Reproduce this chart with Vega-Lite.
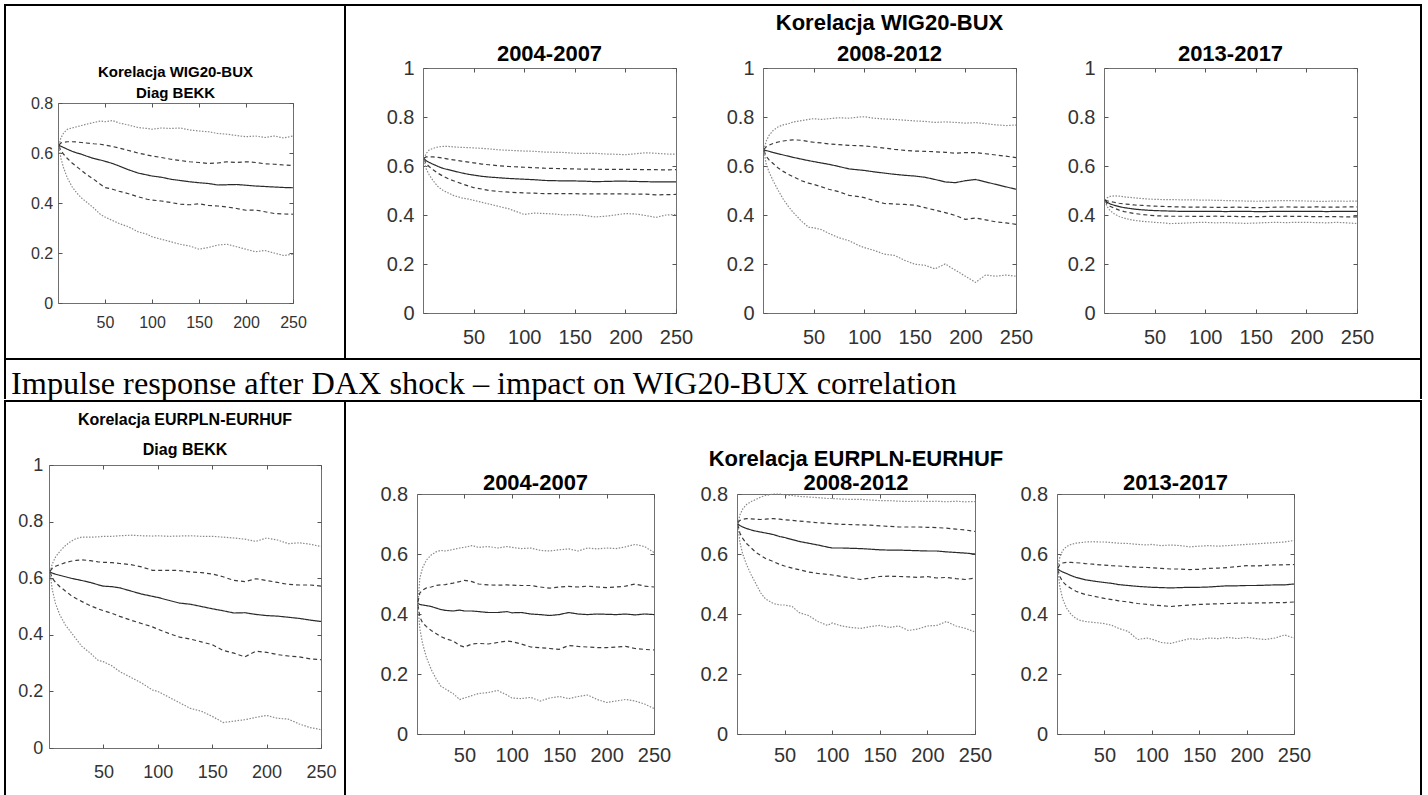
{
"$schema": "https://vega.github.io/schema/vega-lite/v6.json",
"background": "white",
"padding": {"left": 4, "top": 4, "right": 0, "bottom": 0},
"config": {"view": {"stroke": "#707070", "strokeWidth": 1}, "concat": {"spacing": 0}},
"datasets": {
"p1": [
{"x":1,"a":0.63,"b":0.632,"c":0.63,"d":0.628,"e":0.626},
{"x":3,"a":0.66,"b":0.64,"c":0.627,"d":0.61,"e":0.58},
{"x":6,"a":0.68,"b":0.643,"c":0.622,"d":0.595,"e":0.54},
{"x":10,"a":0.695,"b":0.645,"c":0.615,"d":0.578,"e":0.5},
{"x":15,"a":0.7,"b":0.645,"c":0.607,"d":0.56,"e":0.465},
{"x":20,"a":0.705,"b":0.644,"c":0.6,"d":0.545,"e":0.44},
{"x":25,"a":0.71,"b":0.642,"c":0.595,"d":0.53,"e":0.42},
{"x":30,"a":0.715,"b":0.64,"c":0.588,"d":0.515,"e":0.405},
{"x":38,"a":0.722,"b":0.637,"c":0.578,"d":0.495,"e":0.38},
{"x":45,"a":0.728,"b":0.635,"c":0.572,"d":0.475,"e":0.355},
{"x":50,"a":0.725,"b":0.632,"c":0.567,"d":0.462,"e":0.344},
{"x":58,"a":0.73,"b":0.626,"c":0.558,"d":0.455,"e":0.33},
{"x":65,"a":0.72,"b":0.62,"c":0.548,"d":0.447,"e":0.318},
{"x":75,"a":0.712,"b":0.61,"c":0.533,"d":0.437,"e":0.305},
{"x":85,"a":0.702,"b":0.6,"c":0.52,"d":0.425,"e":0.285},
{"x":95,"a":0.698,"b":0.592,"c":0.512,"d":0.415,"e":0.275},
{"x":100,"a":0.695,"b":0.588,"c":0.508,"d":0.412,"e":0.265},
{"x":110,"a":0.7,"b":0.582,"c":0.503,"d":0.408,"e":0.255},
{"x":120,"a":0.698,"b":0.575,"c":0.495,"d":0.402,"e":0.245},
{"x":130,"a":0.7,"b":0.57,"c":0.49,"d":0.395,"e":0.235},
{"x":140,"a":0.692,"b":0.565,"c":0.485,"d":0.393,"e":0.228},
{"x":150,"a":0.688,"b":0.562,"c":0.481,"d":0.397,"e":0.215},
{"x":160,"a":0.685,"b":0.558,"c":0.478,"d":0.39,"e":0.222},
{"x":170,"a":0.678,"b":0.56,"c":0.472,"d":0.388,"e":0.232},
{"x":180,"a":0.675,"b":0.565,"c":0.473,"d":0.384,"e":0.235},
{"x":190,"a":0.67,"b":0.562,"c":0.474,"d":0.378,"e":0.225},
{"x":200,"a":0.665,"b":0.565,"c":0.471,"d":0.371,"e":0.215},
{"x":210,"a":0.668,"b":0.562,"c":0.468,"d":0.372,"e":0.205},
{"x":220,"a":0.662,"b":0.557,"c":0.466,"d":0.365,"e":0.21},
{"x":230,"a":0.668,"b":0.555,"c":0.464,"d":0.358,"e":0.2},
{"x":240,"a":0.66,"b":0.552,"c":0.462,"d":0.356,"e":0.19},
{"x":250,"a":0.668,"b":0.55,"c":0.461,"d":0.355,"e":0.195}
],
"p2": [
{"x":1,"a":0.63,"b":0.632,"c":0.63,"d":0.628,"e":0.626},
{"x":3,"a":0.65,"b":0.637,"c":0.622,"d":0.61,"e":0.59},
{"x":6,"a":0.665,"b":0.638,"c":0.615,"d":0.598,"e":0.565},
{"x":10,"a":0.672,"b":0.637,"c":0.607,"d":0.585,"e":0.54},
{"x":15,"a":0.678,"b":0.635,"c":0.598,"d":0.57,"e":0.515},
{"x":20,"a":0.68,"b":0.632,"c":0.59,"d":0.558,"e":0.5},
{"x":25,"a":0.68,"b":0.628,"c":0.585,"d":0.548,"e":0.49},
{"x":30,"a":0.678,"b":0.625,"c":0.58,"d":0.54,"e":0.48},
{"x":38,"a":0.676,"b":0.62,"c":0.572,"d":0.528,"e":0.47},
{"x":45,"a":0.675,"b":0.616,"c":0.566,"d":0.518,"e":0.465},
{"x":50,"a":0.674,"b":0.613,"c":0.563,"d":0.512,"e":0.46},
{"x":58,"a":0.672,"b":0.608,"c":0.558,"d":0.506,"e":0.452},
{"x":65,"a":0.67,"b":0.605,"c":0.555,"d":0.5,"e":0.445},
{"x":75,"a":0.666,"b":0.601,"c":0.552,"d":0.496,"e":0.435},
{"x":85,"a":0.664,"b":0.598,"c":0.549,"d":0.493,"e":0.425},
{"x":95,"a":0.662,"b":0.596,"c":0.547,"d":0.491,"e":0.41},
{"x":100,"a":0.661,"b":0.595,"c":0.546,"d":0.49,"e":0.402},
{"x":110,"a":0.66,"b":0.593,"c":0.544,"d":0.489,"e":0.408},
{"x":120,"a":0.657,"b":0.591,"c":0.541,"d":0.487,"e":0.406},
{"x":130,"a":0.656,"b":0.59,"c":0.54,"d":0.487,"e":0.404},
{"x":140,"a":0.655,"b":0.589,"c":0.539,"d":0.487,"e":0.4},
{"x":150,"a":0.652,"b":0.588,"c":0.539,"d":0.487,"e":0.402},
{"x":160,"a":0.651,"b":0.587,"c":0.538,"d":0.486,"e":0.398},
{"x":170,"a":0.652,"b":0.587,"c":0.536,"d":0.486,"e":0.392},
{"x":180,"a":0.649,"b":0.586,"c":0.537,"d":0.486,"e":0.395},
{"x":190,"a":0.648,"b":0.586,"c":0.538,"d":0.486,"e":0.4},
{"x":200,"a":0.646,"b":0.586,"c":0.538,"d":0.486,"e":0.406},
{"x":210,"a":0.65,"b":0.586,"c":0.537,"d":0.485,"e":0.404},
{"x":220,"a":0.654,"b":0.585,"c":0.536,"d":0.485,"e":0.398},
{"x":230,"a":0.652,"b":0.585,"c":0.535,"d":0.482,"e":0.39},
{"x":240,"a":0.649,"b":0.584,"c":0.535,"d":0.483,"e":0.4},
{"x":250,"a":0.648,"b":0.585,"c":0.535,"d":0.484,"e":0.402}
],
"p3": [
{"x":1,"a":0.665,"b":0.668,"c":0.665,"d":0.662,"e":0.66},
{"x":3,"a":0.7,"b":0.678,"c":0.663,"d":0.64,"e":0.61},
{"x":6,"a":0.725,"b":0.685,"c":0.66,"d":0.625,"e":0.575},
{"x":10,"a":0.745,"b":0.692,"c":0.655,"d":0.61,"e":0.54},
{"x":15,"a":0.76,"b":0.698,"c":0.65,"d":0.592,"e":0.5},
{"x":20,"a":0.768,"b":0.702,"c":0.645,"d":0.578,"e":0.465},
{"x":25,"a":0.772,"b":0.705,"c":0.64,"d":0.566,"e":0.435},
{"x":30,"a":0.78,"b":0.707,"c":0.635,"d":0.556,"e":0.41},
{"x":38,"a":0.785,"b":0.705,"c":0.628,"d":0.54,"e":0.375},
{"x":45,"a":0.79,"b":0.7,"c":0.622,"d":0.53,"e":0.35},
{"x":50,"a":0.793,"b":0.697,"c":0.618,"d":0.525,"e":0.348},
{"x":58,"a":0.79,"b":0.694,"c":0.612,"d":0.515,"e":0.34},
{"x":65,"a":0.793,"b":0.69,"c":0.607,"d":0.505,"e":0.325},
{"x":75,"a":0.797,"b":0.687,"c":0.598,"d":0.495,"e":0.307},
{"x":85,"a":0.795,"b":0.684,"c":0.588,"d":0.48,"e":0.295},
{"x":95,"a":0.8,"b":0.683,"c":0.584,"d":0.475,"e":0.275},
{"x":100,"a":0.801,"b":0.682,"c":0.582,"d":0.471,"e":0.267},
{"x":110,"a":0.795,"b":0.678,"c":0.576,"d":0.458,"e":0.255},
{"x":120,"a":0.792,"b":0.673,"c":0.571,"d":0.447,"e":0.24},
{"x":130,"a":0.79,"b":0.668,"c":0.566,"d":0.445,"e":0.235},
{"x":140,"a":0.787,"b":0.664,"c":0.562,"d":0.443,"e":0.215},
{"x":150,"a":0.784,"b":0.661,"c":0.559,"d":0.44,"e":0.199},
{"x":160,"a":0.782,"b":0.66,"c":0.554,"d":0.43,"e":0.195},
{"x":170,"a":0.778,"b":0.658,"c":0.545,"d":0.42,"e":0.18},
{"x":180,"a":0.78,"b":0.656,"c":0.535,"d":0.41,"e":0.2},
{"x":190,"a":0.778,"b":0.652,"c":0.532,"d":0.398,"e":0.175},
{"x":200,"a":0.775,"b":0.655,"c":0.54,"d":0.382,"e":0.15},
{"x":210,"a":0.777,"b":0.655,"c":0.545,"d":0.388,"e":0.125},
{"x":220,"a":0.773,"b":0.65,"c":0.535,"d":0.38,"e":0.155},
{"x":230,"a":0.768,"b":0.645,"c":0.525,"d":0.372,"e":0.15},
{"x":240,"a":0.765,"b":0.64,"c":0.515,"d":0.368,"e":0.155},
{"x":250,"a":0.767,"b":0.634,"c":0.505,"d":0.362,"e":0.15}
],
"p4": [
{"x":1,"a":0.46,"b":0.46,"c":0.46,"d":0.458,"e":0.456},
{"x":3,"a":0.47,"b":0.458,"c":0.452,"d":0.446,"e":0.435},
{"x":6,"a":0.476,"b":0.455,"c":0.445,"d":0.436,"e":0.418},
{"x":10,"a":0.478,"b":0.452,"c":0.44,"d":0.428,"e":0.405},
{"x":15,"a":0.477,"b":0.448,"c":0.434,"d":0.42,"e":0.394},
{"x":20,"a":0.474,"b":0.445,"c":0.43,"d":0.414,"e":0.387},
{"x":25,"a":0.472,"b":0.443,"c":0.427,"d":0.41,"e":0.382},
{"x":30,"a":0.47,"b":0.441,"c":0.424,"d":0.406,"e":0.378},
{"x":38,"a":0.467,"b":0.439,"c":0.421,"d":0.402,"e":0.374},
{"x":45,"a":0.465,"b":0.437,"c":0.419,"d":0.399,"e":0.372},
{"x":50,"a":0.464,"b":0.436,"c":0.418,"d":0.397,"e":0.37},
{"x":58,"a":0.463,"b":0.435,"c":0.417,"d":0.396,"e":0.368},
{"x":65,"a":0.463,"b":0.434,"c":0.416,"d":0.395,"e":0.365},
{"x":75,"a":0.462,"b":0.433,"c":0.415,"d":0.395,"e":0.366},
{"x":85,"a":0.462,"b":0.432,"c":0.415,"d":0.395,"e":0.368},
{"x":95,"a":0.461,"b":0.432,"c":0.415,"d":0.394,"e":0.37},
{"x":100,"a":0.461,"b":0.432,"c":0.415,"d":0.394,"e":0.37},
{"x":110,"a":0.46,"b":0.431,"c":0.415,"d":0.395,"e":0.368},
{"x":120,"a":0.459,"b":0.431,"c":0.414,"d":0.394,"e":0.369},
{"x":130,"a":0.458,"b":0.432,"c":0.415,"d":0.394,"e":0.367},
{"x":140,"a":0.457,"b":0.431,"c":0.415,"d":0.393,"e":0.366},
{"x":150,"a":0.456,"b":0.43,"c":0.414,"d":0.393,"e":0.367},
{"x":160,"a":0.457,"b":0.431,"c":0.414,"d":0.394,"e":0.369},
{"x":170,"a":0.458,"b":0.432,"c":0.415,"d":0.394,"e":0.37},
{"x":180,"a":0.459,"b":0.433,"c":0.415,"d":0.395,"e":0.369},
{"x":190,"a":0.458,"b":0.432,"c":0.415,"d":0.394,"e":0.37},
{"x":200,"a":0.457,"b":0.432,"c":0.415,"d":0.394,"e":0.37},
{"x":210,"a":0.456,"b":0.433,"c":0.415,"d":0.393,"e":0.369},
{"x":220,"a":0.456,"b":0.432,"c":0.414,"d":0.393,"e":0.368},
{"x":230,"a":0.457,"b":0.432,"c":0.415,"d":0.393,"e":0.37},
{"x":240,"a":0.456,"b":0.433,"c":0.415,"d":0.392,"e":0.368},
{"x":250,"a":0.457,"b":0.433,"c":0.415,"d":0.392,"e":0.365}
],
"p5": [
{"x":1,"a":0.622,"b":0.625,"c":0.622,"d":0.62,"e":0.618},
{"x":3,"a":0.65,"b":0.635,"c":0.618,"d":0.6,"e":0.56},
{"x":6,"a":0.675,"b":0.642,"c":0.614,"d":0.585,"e":0.51},
{"x":10,"a":0.695,"b":0.648,"c":0.61,"d":0.57,"e":0.47},
{"x":15,"a":0.715,"b":0.655,"c":0.605,"d":0.555,"e":0.435},
{"x":20,"a":0.73,"b":0.66,"c":0.6,"d":0.54,"e":0.41},
{"x":25,"a":0.74,"b":0.663,"c":0.596,"d":0.528,"e":0.385},
{"x":30,"a":0.745,"b":0.665,"c":0.592,"d":0.518,"e":0.36},
{"x":38,"a":0.745,"b":0.662,"c":0.585,"d":0.503,"e":0.335},
{"x":45,"a":0.746,"b":0.658,"c":0.577,"d":0.492,"e":0.31},
{"x":50,"a":0.748,"b":0.656,"c":0.572,"d":0.485,"e":0.305},
{"x":58,"a":0.748,"b":0.655,"c":0.57,"d":0.476,"e":0.29},
{"x":65,"a":0.75,"b":0.652,"c":0.566,"d":0.465,"e":0.27},
{"x":75,"a":0.752,"b":0.648,"c":0.555,"d":0.452,"e":0.25},
{"x":85,"a":0.75,"b":0.64,"c":0.544,"d":0.44,"e":0.23},
{"x":95,"a":0.749,"b":0.628,"c":0.536,"d":0.428,"e":0.205},
{"x":100,"a":0.75,"b":0.628,"c":0.532,"d":0.42,"e":0.2},
{"x":110,"a":0.748,"b":0.628,"c":0.522,"d":0.405,"e":0.18},
{"x":120,"a":0.749,"b":0.627,"c":0.512,"d":0.392,"e":0.16},
{"x":130,"a":0.75,"b":0.622,"c":0.508,"d":0.385,"e":0.14},
{"x":140,"a":0.748,"b":0.62,"c":0.5,"d":0.375,"e":0.13},
{"x":150,"a":0.748,"b":0.615,"c":0.492,"d":0.365,"e":0.112},
{"x":160,"a":0.745,"b":0.605,"c":0.485,"d":0.345,"e":0.09},
{"x":170,"a":0.742,"b":0.592,"c":0.477,"d":0.335,"e":0.095},
{"x":180,"a":0.738,"b":0.588,"c":0.478,"d":0.322,"e":0.1},
{"x":190,"a":0.73,"b":0.598,"c":0.472,"d":0.342,"e":0.108},
{"x":200,"a":0.742,"b":0.592,"c":0.468,"d":0.338,"e":0.115},
{"x":210,"a":0.735,"b":0.585,"c":0.466,"d":0.33,"e":0.105},
{"x":220,"a":0.722,"b":0.578,"c":0.462,"d":0.325,"e":0.102},
{"x":230,"a":0.725,"b":0.576,"c":0.458,"d":0.322,"e":0.085},
{"x":240,"a":0.72,"b":0.576,"c":0.452,"d":0.315,"e":0.072},
{"x":250,"a":0.712,"b":0.572,"c":0.447,"d":0.312,"e":0.065}
],
"p6": [
{"x":1,"a":0.435,"b":0.44,"c":0.435,"d":0.43,"e":0.428},
{"x":3,"a":0.52,"b":0.47,"c":0.432,"d":0.39,"e":0.35},
{"x":6,"a":0.555,"b":0.48,"c":0.43,"d":0.37,"e":0.3},
{"x":10,"a":0.58,"b":0.487,"c":0.428,"d":0.358,"e":0.255},
{"x":15,"a":0.597,"b":0.49,"c":0.425,"d":0.345,"e":0.215},
{"x":20,"a":0.607,"b":0.495,"c":0.42,"d":0.335,"e":0.185},
{"x":25,"a":0.612,"b":0.497,"c":0.415,"d":0.325,"e":0.16},
{"x":30,"a":0.61,"b":0.498,"c":0.412,"d":0.318,"e":0.15},
{"x":38,"a":0.615,"b":0.503,"c":0.41,"d":0.31,"e":0.135},
{"x":45,"a":0.62,"b":0.508,"c":0.413,"d":0.295,"e":0.115},
{"x":50,"a":0.622,"b":0.512,"c":0.41,"d":0.29,"e":0.12},
{"x":58,"a":0.628,"b":0.508,"c":0.41,"d":0.3,"e":0.128},
{"x":65,"a":0.622,"b":0.5,"c":0.408,"d":0.302,"e":0.135},
{"x":75,"a":0.625,"b":0.497,"c":0.405,"d":0.3,"e":0.138},
{"x":85,"a":0.62,"b":0.496,"c":0.405,"d":0.305,"e":0.145},
{"x":95,"a":0.625,"b":0.497,"c":0.408,"d":0.31,"e":0.13},
{"x":100,"a":0.622,"b":0.496,"c":0.404,"d":0.308,"e":0.12},
{"x":110,"a":0.618,"b":0.495,"c":0.405,"d":0.3,"e":0.118},
{"x":120,"a":0.62,"b":0.495,"c":0.4,"d":0.29,"e":0.122},
{"x":130,"a":0.612,"b":0.49,"c":0.398,"d":0.288,"e":0.11},
{"x":140,"a":0.61,"b":0.486,"c":0.395,"d":0.285,"e":0.12},
{"x":150,"a":0.614,"b":0.49,"c":0.398,"d":0.282,"e":0.125},
{"x":160,"a":0.617,"b":0.492,"c":0.405,"d":0.295,"e":0.118},
{"x":170,"a":0.61,"b":0.49,"c":0.4,"d":0.292,"e":0.125},
{"x":180,"a":0.62,"b":0.493,"c":0.398,"d":0.29,"e":0.13},
{"x":190,"a":0.617,"b":0.49,"c":0.4,"d":0.288,"e":0.115},
{"x":200,"a":0.62,"b":0.488,"c":0.399,"d":0.288,"e":0.105},
{"x":210,"a":0.618,"b":0.49,"c":0.398,"d":0.29,"e":0.11},
{"x":220,"a":0.624,"b":0.493,"c":0.4,"d":0.292,"e":0.115},
{"x":230,"a":0.632,"b":0.5,"c":0.397,"d":0.285,"e":0.11},
{"x":240,"a":0.625,"b":0.493,"c":0.4,"d":0.282,"e":0.1},
{"x":250,"a":0.605,"b":0.49,"c":0.398,"d":0.28,"e":0.085}
],
"p7": [
{"x":1,"a":0.7,"b":0.705,"c":0.7,"d":0.698,"e":0.696},
{"x":3,"a":0.73,"b":0.712,"c":0.695,"d":0.67,"e":0.64},
{"x":6,"a":0.75,"b":0.716,"c":0.69,"d":0.652,"e":0.6},
{"x":10,"a":0.765,"b":0.718,"c":0.685,"d":0.635,"e":0.565},
{"x":15,"a":0.775,"b":0.717,"c":0.68,"d":0.62,"e":0.53},
{"x":20,"a":0.782,"b":0.716,"c":0.676,"d":0.605,"e":0.5},
{"x":25,"a":0.79,"b":0.715,"c":0.673,"d":0.595,"e":0.47},
{"x":30,"a":0.795,"b":0.716,"c":0.67,"d":0.585,"e":0.45},
{"x":38,"a":0.8,"b":0.718,"c":0.665,"d":0.575,"e":0.435},
{"x":45,"a":0.8,"b":0.716,"c":0.658,"d":0.565,"e":0.43},
{"x":50,"a":0.797,"b":0.714,"c":0.655,"d":0.56,"e":0.43},
{"x":58,"a":0.795,"b":0.712,"c":0.648,"d":0.553,"e":0.425},
{"x":65,"a":0.792,"b":0.71,"c":0.642,"d":0.548,"e":0.405},
{"x":75,"a":0.79,"b":0.707,"c":0.636,"d":0.54,"e":0.395},
{"x":85,"a":0.788,"b":0.704,"c":0.63,"d":0.535,"e":0.375},
{"x":95,"a":0.785,"b":0.702,"c":0.623,"d":0.532,"e":0.362},
{"x":100,"a":0.785,"b":0.701,"c":0.62,"d":0.53,"e":0.37},
{"x":110,"a":0.783,"b":0.699,"c":0.62,"d":0.525,"e":0.36},
{"x":120,"a":0.782,"b":0.698,"c":0.619,"d":0.52,"e":0.355},
{"x":130,"a":0.782,"b":0.697,"c":0.618,"d":0.515,"e":0.352},
{"x":140,"a":0.78,"b":0.696,"c":0.616,"d":0.52,"e":0.358},
{"x":150,"a":0.778,"b":0.694,"c":0.614,"d":0.525,"e":0.362},
{"x":160,"a":0.778,"b":0.692,"c":0.613,"d":0.526,"e":0.355},
{"x":170,"a":0.776,"b":0.69,"c":0.613,"d":0.525,"e":0.36},
{"x":180,"a":0.775,"b":0.69,"c":0.612,"d":0.524,"e":0.345},
{"x":190,"a":0.776,"b":0.69,"c":0.611,"d":0.522,"e":0.35},
{"x":200,"a":0.775,"b":0.689,"c":0.61,"d":0.525,"e":0.36},
{"x":210,"a":0.776,"b":0.688,"c":0.61,"d":0.52,"e":0.362},
{"x":220,"a":0.774,"b":0.686,"c":0.607,"d":0.522,"e":0.375},
{"x":230,"a":0.776,"b":0.683,"c":0.605,"d":0.518,"e":0.36},
{"x":240,"a":0.774,"b":0.68,"c":0.603,"d":0.515,"e":0.352},
{"x":250,"a":0.775,"b":0.675,"c":0.6,"d":0.52,"e":0.34}
],
"p8": [
{"x":1,"a":0.555,"b":0.553,"c":0.55,"d":0.548,"e":0.546},
{"x":3,"a":0.59,"b":0.565,"c":0.545,"d":0.525,"e":0.49},
{"x":6,"a":0.612,"b":0.57,"c":0.54,"d":0.508,"e":0.45},
{"x":10,"a":0.625,"b":0.572,"c":0.535,"d":0.495,"e":0.42},
{"x":15,"a":0.632,"b":0.572,"c":0.528,"d":0.485,"e":0.398},
{"x":20,"a":0.636,"b":0.571,"c":0.522,"d":0.476,"e":0.385},
{"x":25,"a":0.638,"b":0.57,"c":0.518,"d":0.47,"e":0.378},
{"x":30,"a":0.64,"b":0.568,"c":0.514,"d":0.465,"e":0.375},
{"x":38,"a":0.641,"b":0.566,"c":0.51,"d":0.46,"e":0.372},
{"x":45,"a":0.64,"b":0.564,"c":0.507,"d":0.455,"e":0.37},
{"x":50,"a":0.64,"b":0.563,"c":0.505,"d":0.452,"e":0.368},
{"x":58,"a":0.638,"b":0.561,"c":0.502,"d":0.448,"e":0.362},
{"x":65,"a":0.636,"b":0.56,"c":0.498,"d":0.444,"e":0.352},
{"x":75,"a":0.635,"b":0.558,"c":0.495,"d":0.44,"e":0.342},
{"x":85,"a":0.632,"b":0.556,"c":0.492,"d":0.435,"e":0.315},
{"x":95,"a":0.63,"b":0.555,"c":0.49,"d":0.432,"e":0.32},
{"x":100,"a":0.632,"b":0.554,"c":0.489,"d":0.43,"e":0.316},
{"x":110,"a":0.628,"b":0.552,"c":0.488,"d":0.428,"e":0.305},
{"x":120,"a":0.63,"b":0.55,"c":0.487,"d":0.425,"e":0.302},
{"x":130,"a":0.628,"b":0.55,"c":0.488,"d":0.428,"e":0.31},
{"x":140,"a":0.624,"b":0.548,"c":0.489,"d":0.43,"e":0.318},
{"x":150,"a":0.626,"b":0.549,"c":0.489,"d":0.432,"e":0.315},
{"x":160,"a":0.628,"b":0.552,"c":0.49,"d":0.433,"e":0.32},
{"x":170,"a":0.626,"b":0.553,"c":0.492,"d":0.434,"e":0.318},
{"x":180,"a":0.628,"b":0.555,"c":0.494,"d":0.435,"e":0.322},
{"x":190,"a":0.63,"b":0.558,"c":0.494,"d":0.436,"e":0.318},
{"x":200,"a":0.632,"b":0.561,"c":0.495,"d":0.436,"e":0.322},
{"x":210,"a":0.634,"b":0.56,"c":0.495,"d":0.437,"e":0.318},
{"x":220,"a":0.636,"b":0.562,"c":0.496,"d":0.437,"e":0.315},
{"x":230,"a":0.638,"b":0.564,"c":0.497,"d":0.438,"e":0.32},
{"x":240,"a":0.64,"b":0.564,"c":0.497,"d":0.438,"e":0.33},
{"x":250,"a":0.645,"b":0.565,"c":0.5,"d":0.44,"e":0.32}
]
},
"spacing": 0,
"vconcat": [
{"width": 1418, "height": 2, "data": {"values": []}, "mark": "rule", "encoding": {}, "view": {"stroke": null, "fill": "#000000"}},
{"spacing": 0, "hconcat": [
 {"width": 2, "height": 352, "data": {"values": []}, "mark": "rule", "encoding": {}, "view": {"stroke": null, "fill": "#000000"}},
 {"spacing": 0, "vconcat": [
  {"width": 338, "height": 58, "data": {"values": []}, "mark": "rule", "encoding": {}, "view": {"stroke": null}},
  {"spacing": 0, "hconcat": [
   {"width": 16, "height": 1, "data": {"values": []}, "mark": "rule", "encoding": {}, "view": {"stroke": null}},
   {"width": 235, "height": 200, "data": {"name": "p1"},
    "transform": [{"fold": ["a","b","c","d","e"], "as": ["s","y"]}],
    "title": {"text": ["Korelacja WIG20-BUX", "Diag BEKK"], "font": "Liberation Sans Narrow, Arial Narrow, Liberation Sans, sans-serif", "fontSize": 15, "fontWeight": "bold", "color": "#000000", "lineHeight": 21, "offset": -6, "frame": "group", "anchor": "middle"},
    "layer": [
     {"mark": {"type": "line", "strokeWidth": 1.2},
      "encoding": {
       "x": {"field": "x", "type": "quantitative", "scale": {"domain": [0,250], "nice": false, "zero": false}, "axis": {"orient": "bottom", "values": [50,100,150,200,250], "title": null, "domain": false, "grid": false, "tickSize": -4, "tickColor": "#555555", "labelFont": "Liberation Sans Narrow, Arial Narrow, Liberation Sans, sans-serif", "labelFontSize": 16, "labelColor": "#333333", "labelPadding": 15.5, "labelFlush": false, "labelOverlap": false, "minExtent": 32, "maxExtent": 32}},
       "y": {"field": "y", "type": "quantitative", "scale": {"domain": [0,0.8], "nice": false}, "axis": {"orient": "left", "values": [0,0.2,0.4,0.6,0.8], "format": "~g", "title": null, "domain": false, "grid": false, "tickSize": -4, "tickColor": "#555555", "labelFont": "Liberation Sans Narrow, Arial Narrow, Liberation Sans, sans-serif", "labelFontSize": 16, "labelColor": "#333333", "labelPadding": 9.3, "labelOverlap": false, "minExtent": 35, "maxExtent": 35}},
       "color": {"field": "s", "type": "nominal", "scale": {"domain": ["a","b","c","d","e"], "range": ["#8a8a8a","#3c3c3c","#2a2a2a","#3c3c3c","#8a8a8a"]}, "legend": null},
       "strokeDash": {"field": "s", "type": "nominal", "scale": {"domain": ["a","b","c","d","e"], "range": [[1.5,1.5],[4,3],[1,0],[4,3],[1.5,1.5]]}, "legend": null}
      }},
     {"mark": {"type": "line", "strokeOpacity": 0},
      "encoding": {
       "x": {"field": "x", "type": "quantitative", "axis": {"orient": "top", "values": [50,100,150,200,250], "labels": false, "title": null, "domain": false, "grid": false, "tickSize": -4, "tickColor": "#555555", "minExtent": 0, "maxExtent": 0}},
       "y": {"field": "y", "type": "quantitative", "axis": {"orient": "right", "values": [0,0.2,0.4,0.6,0.8], "labels": false, "title": null, "domain": false, "grid": false, "tickSize": -4, "tickColor": "#555555", "minExtent": 0, "maxExtent": 0}}
      }}
    ],
    "resolve": {"axis": {"x": "independent", "y": "independent"}}
   }
  ]}
 ]},
 {"width": 2, "height": 352, "data": {"values": []}, "mark": "rule", "encoding": {}, "view": {"stroke": null, "fill": "#000000"}},
 {"spacing": 0, "vconcat": [
  {"width": 1074, "height": 5, "data": {"values": []}, "mark": "rule", "encoding": {}, "view": {"stroke": null}},
  {"spacing": 0, "hconcat": [
   {"width": 31, "height": 1, "data": {"values": []}, "mark": "rule", "encoding": {}, "view": {"stroke": null}},
   {"width": 253, "height": 245, "data": {"name": "p2"},
    "transform": [{"fold": ["a","b","c","d","e"], "as": ["s","y"]}],
    "title": {"text": ["", "2004-2007"], "font": "Liberation Sans, Arial, Helvetica, sans-serif", "fontSize": 22, "fontWeight": "bold", "color": "#000000", "lineHeight": 31, "offset": -8, "frame": "group", "anchor": "middle"},
    "layer": [
     {"mark": {"type": "line", "strokeWidth": 1.2},
      "encoding": {
       "x": {"field": "x", "type": "quantitative", "scale": {"domain": [0,250], "nice": false, "zero": false}, "axis": {"orient": "bottom", "values": [50,100,150,200,250], "title": null, "domain": false, "grid": false, "tickSize": -4, "tickColor": "#555555", "labelFont": "Liberation Sans, Arial, Helvetica, sans-serif", "labelFontSize": 20, "labelColor": "#333333", "labelPadding": 18.5, "labelFlush": false, "labelOverlap": false, "minExtent": 40, "maxExtent": 40}},
       "y": {"field": "y", "type": "quantitative", "scale": {"domain": [0,1], "nice": false}, "axis": {"orient": "left", "values": [0,0.2,0.4,0.6,0.8,1], "format": "~g", "title": null, "domain": false, "grid": false, "tickSize": -4, "tickColor": "#555555", "labelFont": "Liberation Sans, Arial, Helvetica, sans-serif", "labelFontSize": 20, "labelColor": "#333333", "labelPadding": 13, "labelOverlap": false, "minExtent": 45, "maxExtent": 45}},
       "color": {"field": "s", "type": "nominal", "scale": {"domain": ["a","b","c","d","e"], "range": ["#8a8a8a","#3c3c3c","#2a2a2a","#3c3c3c","#8a8a8a"]}, "legend": null},
       "strokeDash": {"field": "s", "type": "nominal", "scale": {"domain": ["a","b","c","d","e"], "range": [[1.5,1.5],[4,3],[1,0],[4,3],[1.5,1.5]]}, "legend": null}
      }},
     {"mark": {"type": "line", "strokeOpacity": 0},
      "encoding": {
       "x": {"field": "x", "type": "quantitative", "axis": {"orient": "top", "values": [50,100,150,200,250], "labels": false, "title": null, "domain": false, "grid": false, "tickSize": -4, "tickColor": "#555555", "minExtent": 0, "maxExtent": 0}},
       "y": {"field": "y", "type": "quantitative", "axis": {"orient": "right", "values": [0,0.2,0.4,0.6,0.8,1], "labels": false, "title": null, "domain": false, "grid": false, "tickSize": -4, "tickColor": "#555555", "minExtent": 0, "maxExtent": 0}}
      }}
    ],
    "resolve": {"axis": {"x": "independent", "y": "independent"}}
   },
   {"width": 22.32, "height": 1, "data": {"values": []}, "mark": "rule", "encoding": {}, "view": {"stroke": null}},
   {"width": 253, "height": 245, "data": {"name": "p3"},
    "transform": [{"fold": ["a","b","c","d","e"], "as": ["s","y"]}],
    "title": {"text": ["Korelacja WIG20-BUX", "2008-2012"], "font": "Liberation Sans, Arial, Helvetica, sans-serif", "fontSize": 22, "fontWeight": "bold", "color": "#000000", "lineHeight": 31, "offset": -8, "frame": "group", "anchor": "middle"},
    "layer": [
     {"mark": {"type": "line", "strokeWidth": 1.2},
      "encoding": {
       "x": {"field": "x", "type": "quantitative", "scale": {"domain": [0,250], "nice": false, "zero": false}, "axis": {"orient": "bottom", "values": [50,100,150,200,250], "title": null, "domain": false, "grid": false, "tickSize": -4, "tickColor": "#555555", "labelFont": "Liberation Sans, Arial, Helvetica, sans-serif", "labelFontSize": 20, "labelColor": "#333333", "labelPadding": 18.5, "labelFlush": false, "labelOverlap": false, "minExtent": 40, "maxExtent": 40}},
       "y": {"field": "y", "type": "quantitative", "scale": {"domain": [0,1], "nice": false}, "axis": {"orient": "left", "values": [0,0.2,0.4,0.6,0.8,1], "format": "~g", "title": null, "domain": false, "grid": false, "tickSize": -4, "tickColor": "#555555", "labelFont": "Liberation Sans, Arial, Helvetica, sans-serif", "labelFontSize": 20, "labelColor": "#333333", "labelPadding": 13, "labelOverlap": false, "minExtent": 45, "maxExtent": 45}},
       "color": {"field": "s", "type": "nominal", "scale": {"domain": ["a","b","c","d","e"], "range": ["#8a8a8a","#3c3c3c","#2a2a2a","#3c3c3c","#8a8a8a"]}, "legend": null},
       "strokeDash": {"field": "s", "type": "nominal", "scale": {"domain": ["a","b","c","d","e"], "range": [[1.5,1.5],[4,3],[1,0],[4,3],[1.5,1.5]]}, "legend": null}
      }},
     {"mark": {"type": "line", "strokeOpacity": 0},
      "encoding": {
       "x": {"field": "x", "type": "quantitative", "axis": {"orient": "top", "values": [50,100,150,200,250], "labels": false, "title": null, "domain": false, "grid": false, "tickSize": -4, "tickColor": "#555555", "minExtent": 0, "maxExtent": 0}},
       "y": {"field": "y", "type": "quantitative", "axis": {"orient": "right", "values": [0,0.2,0.4,0.6,0.8,1], "labels": false, "title": null, "domain": false, "grid": false, "tickSize": -4, "tickColor": "#555555", "minExtent": 0, "maxExtent": 0}}
      }}
    ],
    "resolve": {"axis": {"x": "independent", "y": "independent"}}
   },
   {"width": 23.32, "height": 1, "data": {"values": []}, "mark": "rule", "encoding": {}, "view": {"stroke": null}},
   {"width": 253, "height": 245, "data": {"name": "p4"},
    "transform": [{"fold": ["a","b","c","d","e"], "as": ["s","y"]}],
    "title": {"text": ["", "2013-2017"], "font": "Liberation Sans, Arial, Helvetica, sans-serif", "fontSize": 22, "fontWeight": "bold", "color": "#000000", "lineHeight": 31, "offset": -8, "frame": "group", "anchor": "middle"},
    "layer": [
     {"mark": {"type": "line", "strokeWidth": 1.2},
      "encoding": {
       "x": {"field": "x", "type": "quantitative", "scale": {"domain": [0,250], "nice": false, "zero": false}, "axis": {"orient": "bottom", "values": [50,100,150,200,250], "title": null, "domain": false, "grid": false, "tickSize": -4, "tickColor": "#555555", "labelFont": "Liberation Sans, Arial, Helvetica, sans-serif", "labelFontSize": 20, "labelColor": "#333333", "labelPadding": 18.5, "labelFlush": false, "labelOverlap": false, "minExtent": 40, "maxExtent": 40}},
       "y": {"field": "y", "type": "quantitative", "scale": {"domain": [0,1], "nice": false}, "axis": {"orient": "left", "values": [0,0.2,0.4,0.6,0.8,1], "format": "~g", "title": null, "domain": false, "grid": false, "tickSize": -4, "tickColor": "#555555", "labelFont": "Liberation Sans, Arial, Helvetica, sans-serif", "labelFontSize": 20, "labelColor": "#333333", "labelPadding": 13, "labelOverlap": false, "minExtent": 45, "maxExtent": 45}},
       "color": {"field": "s", "type": "nominal", "scale": {"domain": ["a","b","c","d","e"], "range": ["#8a8a8a","#3c3c3c","#2a2a2a","#3c3c3c","#8a8a8a"]}, "legend": null},
       "strokeDash": {"field": "s", "type": "nominal", "scale": {"domain": ["a","b","c","d","e"], "range": [[1.5,1.5],[4,3],[1,0],[4,3],[1.5,1.5]]}, "legend": null}
      }},
     {"mark": {"type": "line", "strokeOpacity": 0},
      "encoding": {
       "x": {"field": "x", "type": "quantitative", "axis": {"orient": "top", "values": [50,100,150,200,250], "labels": false, "title": null, "domain": false, "grid": false, "tickSize": -4, "tickColor": "#555555", "minExtent": 0, "maxExtent": 0}},
       "y": {"field": "y", "type": "quantitative", "axis": {"orient": "right", "values": [0,0.2,0.4,0.6,0.8,1], "labels": false, "title": null, "domain": false, "grid": false, "tickSize": -4, "tickColor": "#555555", "minExtent": 0, "maxExtent": 0}}
      }}
    ],
    "resolve": {"axis": {"x": "independent", "y": "independent"}}
   }
  ]}
 ]},
 {"width": 2, "height": 352, "data": {"values": []}, "mark": "rule", "encoding": {}, "view": {"stroke": null, "fill": "#000000"}}
]},
{"width": 1418, "height": 2, "data": {"values": []}, "mark": "rule", "encoding": {}, "view": {"stroke": null, "fill": "#000000"}},
{"spacing": 0, "hconcat": [
 {"width": 2, "height": 39, "data": {"values": []}, "mark": "rule", "encoding": {}, "view": {"stroke": null, "fill": "#000000"}},
 {"spacing": 0, "vconcat": [
  {"width": 1414, "height": 7, "data": {"values": []}, "mark": "rule", "encoding": {}, "view": {"stroke": null}},
  {"width": 1414, "height": 1, "data": {"values": []}, "mark": "rule", "encoding": {}, "view": {"stroke": null},
   "title": {"text": "Impulse response after DAX shock – impact on WIG20-BUX correlation", "font": "Liberation Serif, Times New Roman, serif", "fontSize": 32.3, "fontWeight": "normal", "color": "#000000", "anchor": "start", "frame": "group", "offset": -5, "dx": 5}}
 ]},
 {"width": 2, "height": 39, "data": {"values": []}, "mark": "rule", "encoding": {}, "view": {"stroke": null, "fill": "#000000"}}
]},
{"width": 1418, "height": 2, "data": {"values": []}, "mark": "rule", "encoding": {}, "view": {"stroke": null, "fill": "#000000"}},
{"spacing": 0, "hconcat": [
 {"width": 2, "height": 394, "data": {"values": []}, "mark": "rule", "encoding": {}, "view": {"stroke": null, "fill": "#000000"}},
 {"spacing": 0, "vconcat": [
  {"width": 338, "height": 9, "data": {"values": []}, "mark": "rule", "encoding": {}, "view": {"stroke": null}},
  {"spacing": 0, "hconcat": [
   {"width": 2, "height": 1, "data": {"values": []}, "mark": "rule", "encoding": {}, "view": {"stroke": null}},
   {"width": 272, "height": 283, "data": {"name": "p5"},
    "transform": [{"fold": ["a","b","c","d","e"], "as": ["s","y"]}],
    "title": {"text": ["Korelacja EURPLN-EURHUF", "Diag BEKK"], "font": "Liberation Sans Narrow, Arial Narrow, Liberation Sans, sans-serif", "fontSize": 16, "fontWeight": "bold", "color": "#000000", "lineHeight": 30, "offset": -2, "frame": "group", "anchor": "middle"},
    "layer": [
     {"mark": {"type": "line", "strokeWidth": 1.2},
      "encoding": {
       "x": {"field": "x", "type": "quantitative", "scale": {"domain": [0,250], "nice": false, "zero": false}, "axis": {"orient": "bottom", "values": [50,100,150,200,250], "title": null, "domain": false, "grid": false, "tickSize": -4, "tickColor": "#555555", "labelFont": "Liberation Sans Narrow, Arial Narrow, Liberation Sans, sans-serif", "labelFontSize": 18, "labelColor": "#333333", "labelPadding": 19.9, "labelFlush": false, "labelOverlap": false, "minExtent": 38, "maxExtent": 38}},
       "y": {"field": "y", "type": "quantitative", "scale": {"domain": [0,1], "nice": false}, "axis": {"orient": "left", "values": [0,0.2,0.4,0.6,0.8,1], "format": "~g", "title": null, "domain": false, "grid": false, "tickSize": -4, "tickColor": "#555555", "labelFont": "Liberation Sans Narrow, Arial Narrow, Liberation Sans, sans-serif", "labelFontSize": 18, "labelColor": "#333333", "labelPadding": 10.3, "labelOverlap": false, "minExtent": 40, "maxExtent": 40}},
       "color": {"field": "s", "type": "nominal", "scale": {"domain": ["a","b","c","d","e"], "range": ["#8a8a8a","#3c3c3c","#2a2a2a","#3c3c3c","#8a8a8a"]}, "legend": null},
       "strokeDash": {"field": "s", "type": "nominal", "scale": {"domain": ["a","b","c","d","e"], "range": [[1.5,1.5],[4,3],[1,0],[4,3],[1.5,1.5]]}, "legend": null}
      }},
     {"mark": {"type": "line", "strokeOpacity": 0},
      "encoding": {
       "x": {"field": "x", "type": "quantitative", "axis": {"orient": "top", "values": [50,100,150,200,250], "labels": false, "title": null, "domain": false, "grid": false, "tickSize": -4, "tickColor": "#555555", "minExtent": 0, "maxExtent": 0}},
       "y": {"field": "y", "type": "quantitative", "axis": {"orient": "right", "values": [0,0.2,0.4,0.6,0.8,1], "labels": false, "title": null, "domain": false, "grid": false, "tickSize": -4, "tickColor": "#555555", "minExtent": 0, "maxExtent": 0}}
      }}
    ],
    "resolve": {"axis": {"x": "independent", "y": "independent"}}
   }
  ]}
 ]},
 {"width": 2, "height": 394, "data": {"values": []}, "mark": "rule", "encoding": {}, "view": {"stroke": null, "fill": "#000000"}},
 {"spacing": 0, "vconcat": [
  {"width": 1074, "height": 45, "data": {"values": []}, "mark": "rule", "encoding": {}, "view": {"stroke": null}},
  {"spacing": 0, "hconcat": [
   {"width": 25, "height": 1, "data": {"values": []}, "mark": "rule", "encoding": {}, "view": {"stroke": null}},
   {"width": 237, "height": 240, "data": {"name": "p6"},
    "transform": [{"fold": ["a","b","c","d","e"], "as": ["s","y"]}],
    "title": {"text": ["", "2004-2007"], "font": "Liberation Sans, Arial, Helvetica, sans-serif", "fontSize": 22, "fontWeight": "bold", "color": "#000000", "lineHeight": 24, "offset": -11, "frame": "group", "anchor": "middle"},
    "layer": [
     {"mark": {"type": "line", "strokeWidth": 1.2},
      "encoding": {
       "x": {"field": "x", "type": "quantitative", "scale": {"domain": [0,250], "nice": false, "zero": false}, "axis": {"orient": "bottom", "values": [50,100,150,200,250], "title": null, "domain": false, "grid": false, "tickSize": -4, "tickColor": "#555555", "labelFont": "Liberation Sans, Arial, Helvetica, sans-serif", "labelFontSize": 20, "labelColor": "#333333", "labelPadding": 15.6, "labelFlush": false, "labelOverlap": false, "minExtent": 36, "maxExtent": 36}},
       "y": {"field": "y", "type": "quantitative", "scale": {"domain": [0,0.8], "nice": false}, "axis": {"orient": "left", "values": [0,0.2,0.4,0.6,0.8], "format": "~g", "title": null, "domain": false, "grid": false, "tickSize": -4, "tickColor": "#555555", "labelFont": "Liberation Sans, Arial, Helvetica, sans-serif", "labelFontSize": 20, "labelColor": "#333333", "labelPadding": 13.3, "labelOverlap": false, "minExtent": 45, "maxExtent": 45}},
       "color": {"field": "s", "type": "nominal", "scale": {"domain": ["a","b","c","d","e"], "range": ["#8a8a8a","#3c3c3c","#2a2a2a","#3c3c3c","#8a8a8a"]}, "legend": null},
       "strokeDash": {"field": "s", "type": "nominal", "scale": {"domain": ["a","b","c","d","e"], "range": [[1.5,1.5],[4,3],[1,0],[4,3],[1.5,1.5]]}, "legend": null}
      }},
     {"mark": {"type": "line", "strokeOpacity": 0},
      "encoding": {
       "x": {"field": "x", "type": "quantitative", "axis": {"orient": "top", "values": [50,100,150,200,250], "labels": false, "title": null, "domain": false, "grid": false, "tickSize": -4, "tickColor": "#555555", "minExtent": 0, "maxExtent": 0}},
       "y": {"field": "y", "type": "quantitative", "axis": {"orient": "right", "values": [0,0.2,0.4,0.6,0.8], "labels": false, "title": null, "domain": false, "grid": false, "tickSize": -4, "tickColor": "#555555", "minExtent": 0, "maxExtent": 0}}
      }}
    ],
    "resolve": {"axis": {"x": "independent", "y": "independent"}}
   },
   {"width": 18.32, "height": 1, "data": {"values": []}, "mark": "rule", "encoding": {}, "view": {"stroke": null}},
   {"width": 238, "height": 240, "data": {"name": "p7"},
    "transform": [{"fold": ["a","b","c","d","e"], "as": ["s","y"]}],
    "title": {"text": ["Korelacja EURPLN-EURHUF", "2008-2012"], "font": "Liberation Sans, Arial, Helvetica, sans-serif", "fontSize": 22, "fontWeight": "bold", "color": "#000000", "lineHeight": 24, "offset": -11, "frame": "group", "anchor": "middle"},
    "layer": [
     {"mark": {"type": "line", "strokeWidth": 1.2},
      "encoding": {
       "x": {"field": "x", "type": "quantitative", "scale": {"domain": [0,250], "nice": false, "zero": false}, "axis": {"orient": "bottom", "values": [50,100,150,200,250], "title": null, "domain": false, "grid": false, "tickSize": -4, "tickColor": "#555555", "labelFont": "Liberation Sans, Arial, Helvetica, sans-serif", "labelFontSize": 20, "labelColor": "#333333", "labelPadding": 15.6, "labelFlush": false, "labelOverlap": false, "minExtent": 36, "maxExtent": 36}},
       "y": {"field": "y", "type": "quantitative", "scale": {"domain": [0,0.8], "nice": false}, "axis": {"orient": "left", "values": [0,0.2,0.4,0.6,0.8], "format": "~g", "title": null, "domain": false, "grid": false, "tickSize": -4, "tickColor": "#555555", "labelFont": "Liberation Sans, Arial, Helvetica, sans-serif", "labelFontSize": 20, "labelColor": "#333333", "labelPadding": 13.3, "labelOverlap": false, "minExtent": 45, "maxExtent": 45}},
       "color": {"field": "s", "type": "nominal", "scale": {"domain": ["a","b","c","d","e"], "range": ["#8a8a8a","#3c3c3c","#2a2a2a","#3c3c3c","#8a8a8a"]}, "legend": null},
       "strokeDash": {"field": "s", "type": "nominal", "scale": {"domain": ["a","b","c","d","e"], "range": [[1.5,1.5],[4,3],[1,0],[4,3],[1.5,1.5]]}, "legend": null}
      }},
     {"mark": {"type": "line", "strokeOpacity": 0},
      "encoding": {
       "x": {"field": "x", "type": "quantitative", "axis": {"orient": "top", "values": [50,100,150,200,250], "labels": false, "title": null, "domain": false, "grid": false, "tickSize": -4, "tickColor": "#555555", "minExtent": 0, "maxExtent": 0}},
       "y": {"field": "y", "type": "quantitative", "axis": {"orient": "right", "values": [0,0.2,0.4,0.6,0.8], "labels": false, "title": null, "domain": false, "grid": false, "tickSize": -4, "tickColor": "#555555", "minExtent": 0, "maxExtent": 0}}
      }}
    ],
    "resolve": {"axis": {"x": "independent", "y": "independent"}}
   },
   {"width": 6.71, "height": 1, "data": {"values": []}, "mark": "rule", "encoding": {}, "view": {"stroke": null}},
   {"width": 237, "height": 240, "data": {"name": "p8"},
    "transform": [{"fold": ["a","b","c","d","e"], "as": ["s","y"]}],
    "title": {"text": ["", "2013-2017"], "font": "Liberation Sans, Arial, Helvetica, sans-serif", "fontSize": 22, "fontWeight": "bold", "color": "#000000", "lineHeight": 24, "offset": -11, "frame": "group", "anchor": "middle"},
    "layer": [
     {"mark": {"type": "line", "strokeWidth": 1.2},
      "encoding": {
       "x": {"field": "x", "type": "quantitative", "scale": {"domain": [0,250], "nice": false, "zero": false}, "axis": {"orient": "bottom", "values": [50,100,150,200,250], "title": null, "domain": false, "grid": false, "tickSize": -4, "tickColor": "#555555", "labelFont": "Liberation Sans, Arial, Helvetica, sans-serif", "labelFontSize": 20, "labelColor": "#333333", "labelPadding": 15.6, "labelFlush": false, "labelOverlap": false, "minExtent": 36, "maxExtent": 36}},
       "y": {"field": "y", "type": "quantitative", "scale": {"domain": [0,0.8], "nice": false}, "axis": {"orient": "left", "values": [0,0.2,0.4,0.6,0.8], "format": "~g", "title": null, "domain": false, "grid": false, "tickSize": -4, "tickColor": "#555555", "labelFont": "Liberation Sans, Arial, Helvetica, sans-serif", "labelFontSize": 20, "labelColor": "#333333", "labelPadding": 13.3, "labelOverlap": false, "minExtent": 45, "maxExtent": 45}},
       "color": {"field": "s", "type": "nominal", "scale": {"domain": ["a","b","c","d","e"], "range": ["#8a8a8a","#3c3c3c","#2a2a2a","#3c3c3c","#8a8a8a"]}, "legend": null},
       "strokeDash": {"field": "s", "type": "nominal", "scale": {"domain": ["a","b","c","d","e"], "range": [[1.5,1.5],[4,3],[1,0],[4,3],[1.5,1.5]]}, "legend": null}
      }},
     {"mark": {"type": "line", "strokeOpacity": 0},
      "encoding": {
       "x": {"field": "x", "type": "quantitative", "axis": {"orient": "top", "values": [50,100,150,200,250], "labels": false, "title": null, "domain": false, "grid": false, "tickSize": -4, "tickColor": "#555555", "minExtent": 0, "maxExtent": 0}},
       "y": {"field": "y", "type": "quantitative", "axis": {"orient": "right", "values": [0,0.2,0.4,0.6,0.8], "labels": false, "title": null, "domain": false, "grid": false, "tickSize": -4, "tickColor": "#555555", "minExtent": 0, "maxExtent": 0}}
      }}
    ],
    "resolve": {"axis": {"x": "independent", "y": "independent"}}
   }
  ]}
 ]},
 {"width": 2, "height": 394, "data": {"values": []}, "mark": "rule", "encoding": {}, "view": {"stroke": null, "fill": "#000000"}}
]}
]
}
